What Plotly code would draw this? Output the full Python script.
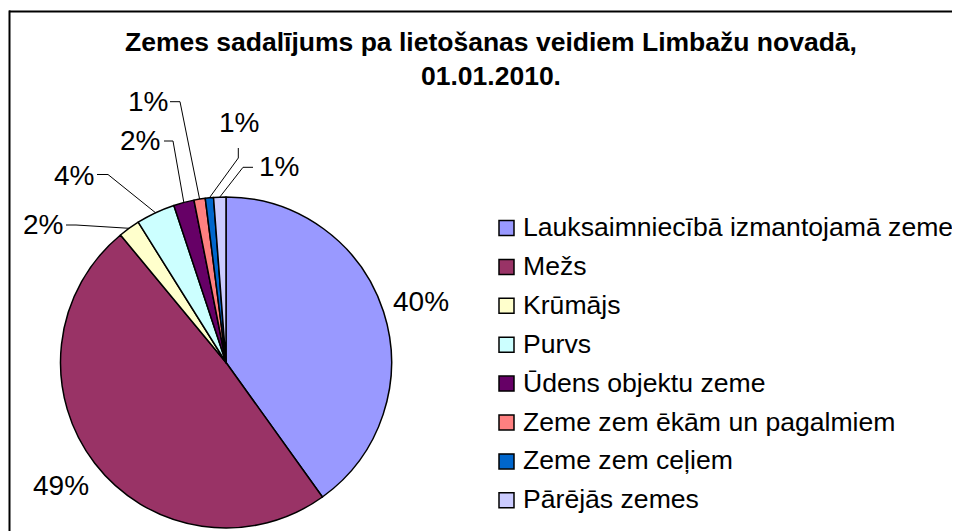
import math
import plotly.graph_objects as go

# ---------------- data ----------------
categories = [
    "Lauksaimniecībā izmantojamā zeme",
    "Mežs",
    "Krūmājs",
    "Purvs",
    "Ūdens objektu zeme",
    "Zeme zem ēkām un pagalmiem",
    "Zeme zem ceļiem",
    "Pārējās zemes",
]
shares = [40.1, 48.9, 2.1, 3.8, 2.0, 1.1, 0.8, 1.2]
title_text = "Zemes sadalījums pa lietošanas veidiem Limbažu novadā,<br>01.01.2010."

# ---------------- styles / layout ----------------
colors = ["#9999FF", "#993366", "#FFFFCC", "#CCFFFF", "#660066", "#FF8080", "#0066CC", "#CCCCFF"]
W, H = 960, 531
OFF = 8  # page body margin offset
FONT = "Liberation Sans, Arial, sans-serif"

def px(x):
    return (x - OFF) / W

def py(y):
    return 1 - (y - OFF) / H

# pie box in pixels (left, top, right, bottom) in window coordinates
PIE_L, PIE_T, PIE_R, PIE_B = 60, 197, 392, 528
CX, CY = (PIE_L + PIE_R) / 2, (PIE_T + PIE_B) / 2
R = min(PIE_R - PIE_L, PIE_B - PIE_T) / 2

# label placement (pixel centres) and leader-line start / elbow (None = no line)
label_pos = [(421, 301), (60.5, 485), (42.7, 224), (74, 175.5), (140, 140),
             (147.5, 101.5), (239, 122), (279, 166.5)]
leader = [None, None,
          ((66, 225), (76, 225)),
          ((97, 174.5), (108, 174.5)),
          ((164, 141), (173, 141)),
          ((170, 101.7), (180, 101.7)),
          ((238.3, 148), (238.3, 158)),
          ((253, 167.3), (243, 167.3))]

fig = go.Figure()
fig.add_trace(go.Pie(
    labels=categories,
    values=shares,
    sort=False,
    direction="clockwise",
    rotation=0,
    marker=dict(colors=colors, line=dict(color="black", width=1.5)),
    textinfo="none",
    hoverinfo="label+percent",
    showlegend=False,
    domain=dict(x=[px(PIE_L), px(PIE_R)], y=[py(PIE_B), py(PIE_T)]),
))

annotations = []
shapes = []

# title
annotations.append(dict(
    text="<b>" + title_text + "</b>", x=px(491), y=py(59), xref="paper", yref="paper",
    xanchor="center", yanchor="middle", showarrow=False,
    font=dict(family=FONT, size=26.5, color="black"), align="center"))

# percentage labels with leader lines computed from the data angles
total = sum(shares)
cum = 0.0
for i, v in enumerate(shares):
    mid = (cum + v / 2) / total * 2 * math.pi
    cum += v
    ex, ey = CX + R * math.sin(mid), CY - R * math.cos(mid)
    lx, ly = label_pos[i]
    annotations.append(dict(
        text=f"{round(v / total * 100)}%", x=px(lx), y=py(ly), xref="paper", yref="paper",
        xanchor="center", yanchor="middle", showarrow=False,
        font=dict(family=FONT, size=28, color="black")))
    if leader[i] is not None:
        (sx, sy), (bx, by) = leader[i]
        path = f"M{px(sx)},{py(sy)} L{px(bx)},{py(by)} L{px(ex)},{py(ey)}"
        shapes.append(dict(type="path", xref="paper", yref="paper", path=path,
                           line=dict(color="black", width=1)))

# legend drawn as squares + text
LEG_X, LEG_Y0, LEG_DY, SQ = 499, 228, 38.9, 15
for i, (name, col) in enumerate(zip(categories, colors)):
    yc = LEG_Y0 + i * LEG_DY
    shapes.append(dict(type="rect", xref="paper", yref="paper",
                       x0=px(LEG_X), x1=px(LEG_X + SQ), y0=py(yc + SQ / 2), y1=py(yc - SQ / 2),
                       fillcolor=col, line=dict(color="black", width=1.5)))
    annotations.append(dict(
        text=name, x=px(521), y=py(yc - 1), xref="paper", yref="paper",
        xanchor="left", yanchor="middle", showarrow=False,
        font=dict(family=FONT, size=26.6, color="black")))

# chart-area frame (top and left edges visible)
shapes.append(dict(type="line", xref="paper", yref="paper", x0=px(9), x1=px(W + 20),
                   y0=py(11.5), y1=py(11.5), line=dict(color="black", width=2)))
shapes.append(dict(type="line", xref="paper", yref="paper", x0=px(9.5), x1=px(9.5),
                   y0=py(10.5), y1=py(H + 20), line=dict(color="black", width=2)))

fig.update_layout(
    width=W, height=H,
    margin=dict(l=0, r=0, t=0, b=0),
    paper_bgcolor="white", plot_bgcolor="white",
    showlegend=False,
    annotations=annotations,
    shapes=shapes,
    font=dict(family=FONT),
)

fig.write_html("out.html")
